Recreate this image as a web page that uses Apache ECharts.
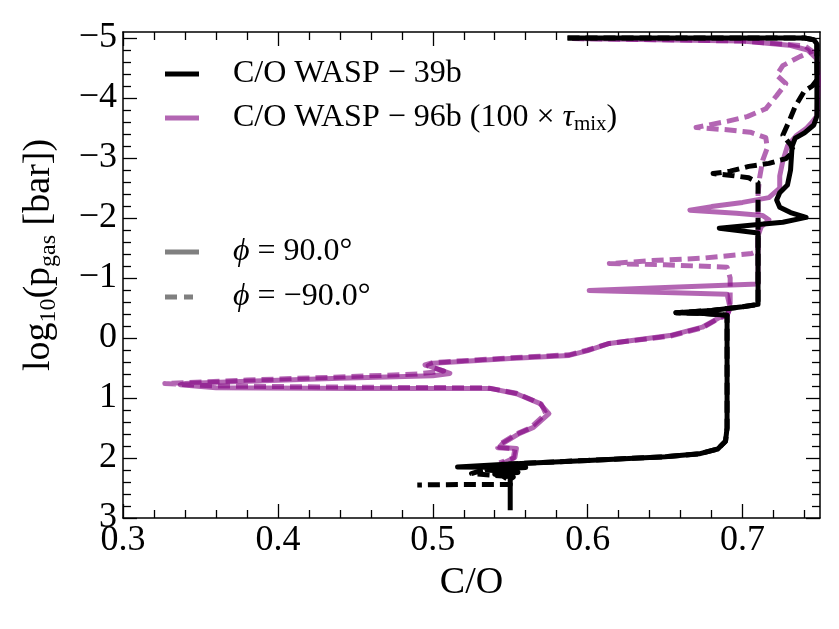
<!DOCTYPE html>
<html>
<head>
<meta charset="utf-8">
<script src="https://cdn.jsdelivr.net/npm/echarts@6/dist/echarts.min.js"></script>
<style>
  html, body { margin: 0; padding: 0; background: #fff; }
  #chart { width: 839px; height: 629px; }
</style>
</head>
<body>
<div id="chart"></div>
<script>
// C/O profiles: x = C/O, y = log10(p_gas [bar])
const w39EastCO = [0.587, 0.74, 0.746, 0.748, 0.748, 0.746, 0.74, 0.734, 0.732, 0.731, 0.729, 0.724, 0.722, 0.724, 0.731, 0.741, 0.726, 0.705, 0.685, 0.697, 0.71, 0.71, 0.70, 0.68, 0.657, 0.675, 0.69, 0.69, 0.689, 0.684, 0.672, 0.65, 0.6, 0.55, 0.516, 0.56, 0.535, 0.555, 0.54, 0.552, 0.55, 0.55]
const w39EastP  = [-5.0, -5.0, -4.97, -4.9, -3.7, -3.55, -3.42, -3.33, -3.2, -2.8, -2.55, -2.42, -2.3, -2.18, -2.09, -2.01, -1.93, -1.88, -1.83, -1.79, -1.75, -0.56, -0.52, -0.46, -0.42, -0.41, -0.38, 1.5, 1.72, 1.85, 1.93, 1.98, 2.04, 2.1, 2.15, 2.16, 2.2, 2.24, 2.27, 2.32, 2.35, 2.87]

const w39WestCO = [0.587, 0.74, 0.746, 0.748, 0.748, 0.745, 0.740, 0.734, 0.730, 0.726, 0.731, 0.733, 0.728, 0.717, 0.704, 0.692, 0.681, 0.693, 0.704, 0.71, 0.71, 0.70, 0.68, 0.657, 0.675, 0.69, 0.69, 0.689, 0.684, 0.672, 0.65, 0.6, 0.55, 0.53, 0.525, 0.545, 0.55, 0.55, 0.52, 0.49]
const w39WestP  = [-5.0, -5.0, -4.97, -4.9, -4.3, -4.2, -4.12, -3.86, -3.61, -3.38, -3.22, -3.11, -2.99, -2.91, -2.86, -2.78, -2.74, -2.71, -2.67, -2.59, -0.56, -0.52, -0.46, -0.42, -0.41, -0.38, 1.5, 1.72, 1.85, 1.93, 1.98, 2.04, 2.1, 2.22, 2.26, 2.3, 2.38, 2.44, 2.44, 2.45]

const w96EastCO = [0.59, 0.70, 0.73, 0.742, 0.748, 0.749, 0.748, 0.745, 0.741, 0.735, 0.729, 0.726, 0.724, 0.724, 0.717, 0.70, 0.68, 0.666, 0.696, 0.713, 0.717, 0.712, 0.71, 0.71, 0.65, 0.601, 0.65, 0.69, 0.692, 0.69, 0.685, 0.674, 0.653, 0.614, 0.6, 0.588, 0.55, 0.5, 0.497, 0.511, 0.5, 0.44, 0.38, 0.34, 0.337, 0.36, 0.45, 0.537, 0.554, 0.569, 0.575, 0.565, 0.556, 0.545, 0.543, 0.554, 0.553, 0.545, 0.548]
const w96EastP  = [-4.99, -4.95, -4.88, -4.8, -4.65, -4.3, -3.7, -3.6, -3.49, -3.38, -3.2, -2.95, -2.7, -2.5, -2.34, -2.26, -2.19, -2.13, -2.08, -2.04, -1.97, -1.85, -1.7, -0.9, -0.84, -0.79, -0.76, -0.73, -0.5, -0.38, -0.34, -0.18, -0.04, 0.09, 0.21, 0.29, 0.34, 0.42, 0.46, 0.59, 0.63, 0.67, 0.72, 0.76, 0.78, 0.83, 0.84, 0.84, 0.93, 1.09, 1.26, 1.49, 1.59, 1.76, 1.82, 1.84, 1.99, 2.09, 2.2]

const w96WestCO = [0.59, 0.70, 0.74, 0.745, 0.737, 0.726, 0.722, 0.728, 0.722, 0.715, 0.703, 0.69, 0.67, 0.69, 0.705, 0.715, 0.716, 0.713, 0.711, 0.71, 0.71, 0.706, 0.674, 0.642, 0.614, 0.65, 0.69, 0.692, 0.692, 0.69, 0.685, 0.674, 0.653, 0.614, 0.6, 0.588, 0.55, 0.5, 0.495, 0.507, 0.49, 0.44, 0.38, 0.327, 0.36, 0.45, 0.535, 0.554, 0.57, 0.573, 0.563, 0.554, 0.544, 0.542, 0.553, 0.552, 0.543]
const w96WestP  = [-4.99, -4.95, -4.87, -4.78, -4.69, -4.54, -4.38, -4.24, -4.04, -3.82, -3.69, -3.61, -3.51, -3.47, -3.43, -3.34, -3.17, -2.96, -2.67, -2.4, -1.45, -1.41, -1.33, -1.29, -1.24, -1.22, -1.18, -1.0, -0.5, -0.38, -0.33, -0.17, -0.03, 0.09, 0.2, 0.28, 0.33, 0.41, 0.45, 0.55, 0.6, 0.65, 0.7, 0.76, 0.8, 0.82, 0.83, 0.92, 1.1, 1.26, 1.5, 1.6, 1.76, 1.83, 1.85, 2.0, 2.08]

const xMajorTicks = [0.3, 0.4, 0.5, 0.6, 0.7]
const xMinorTicks = [0.32, 0.34, 0.36, 0.38, 0.42, 0.44, 0.46, 0.48, 0.52, 0.54, 0.56, 0.58, 0.62, 0.64, 0.66, 0.68, 0.72, 0.74]
const yMajorTicks = [-5, -4, -3, -2, -1, 0, 1, 2, 3]
const yMinorTicks = [-4.8, -4.6, -4.4, -4.2, -3.8, -3.6, -3.4, -3.2, -2.8, -2.6, -2.4, -2.2, -1.8, -1.6, -1.4, -1.2,
  -0.8, -0.6, -0.4, -0.2, 0.2, 0.4, 0.6, 0.8, 1.2, 1.4, 1.6, 1.8, 2.2, 2.4, 2.6, 2.8]

const NAME_39 = 'C/O WASP − 39b'
const NAME_96 = 'C/O WASP − 96b (100 × τmix)'
const NAME_EAST = 'ϕ = 90.0°'
const NAME_WEST = 'ϕ = −90.0°'

const BLACK = '#000000'
const PURPLE = 'rgba(128,0,128,0.6)'
const GREY = '#808080'
const FONT = 'Liberation Serif'

const zip = (xs, ys) => xs.map((x, i) => [x, ys[i]])

const chart = echarts.init(document.getElementById('chart'))

const tickLine = { color: '#000', width: 1.3 }
const frame = { show: true, onZero: false, lineStyle: { color: '#000', width: 1.5 } }
const noLine = { show: false, onZero: false }

// one axis per side for the major ticks, another for the minor ones
const makeX = (position, ticks, len, withLine, withLabels) => ({
  type: 'value', position, min: 0.3, max: 0.75,
  axisLine: withLine ? frame : noLine,
  axisTick: { show: true, inside: true, length: len, customValues: ticks, lineStyle: tickLine },
  axisLabel: withLabels
    ? { show: true, customValues: ticks, formatter: v => v.toFixed(1), fontSize: 36, color: '#000', margin: 5, fontFamily: FONT }
    : { show: false },
  splitLine: { show: false }
})

const makeY = (position, ticks, len, withLine, withLabels) => ({
  type: 'value', position, inverse: true, min: -5.1, max: 3,
  axisLine: withLine ? frame : noLine,
  axisTick: { show: true, inside: true, length: len, customValues: ticks, lineStyle: tickLine },
  axisLabel: withLabels
    ? { show: true, customValues: ticks, formatter: v => (v < 0 ? '−' + (-v) : String(v)), fontSize: 36, color: '#000', margin: 6, fontFamily: FONT }
    : { show: false },
  splitLine: { show: false }
})

const xBottom = makeX('bottom', xMajorTicks, 14, true, true)
xBottom.name = 'C/O'
xBottom.nameLocation = 'middle'
xBottom.nameGap = 46
xBottom.nameTextStyle = { fontSize: 38, color: '#000', fontFamily: FONT }

const yLeft = makeY('left', yMajorTicks, 14, true, true)
yLeft.name = 'log{s|10}(p{s|gas} [bar])'
yLeft.nameLocation = 'middle'
yLeft.nameGap = 62
yLeft.nameTextStyle = {
  fontSize: 38, color: '#000', fontFamily: FONT, lineHeight: 44, padding: [0, 0, 0, 40],
  rich: { s: { fontSize: 24, lineHeight: 24, verticalAlign: 'bottom', fontFamily: FONT, color: '#000' } }
}

const lineSeries = (name, co, p, color, dashed) => ({
  name, type: 'line', xAxisIndex: 0, yAxisIndex: 0,
  data: zip(co, p), symbol: 'none', showSymbol: false, clip: true,
  color,
  lineStyle: { color, width: 5, type: dashed ? [12, 6] : 'solid', join: 'round' }
})

const solidIcon = 'path://M0,0H34V5H0Z'
const dashIcon = 'path://M0,0H12V5H0Z M19,0H28V5H19Z M34,0V5'

const legendText = {
  fontSize: 32, color: '#000', fontFamily: FONT, lineHeight: 34, padding: [0, 0, 0, 29],
  rich: {
    i: { fontSize: 32, fontStyle: 'italic', fontFamily: FONT, color: '#000', lineHeight: 34 },
    s: { fontSize: 21, lineHeight: 21, verticalAlign: 'bottom', fontFamily: FONT, color: '#000' }
  }
}
const legendFmt = name => name.replace('τmix', '{i|τ}{s|mix}').replace('ϕ', '{i|ϕ}')

const option = {
  animation: false,
  backgroundColor: '#fff',
  textStyle: { fontFamily: FONT },
  grid: { left: 123, right: 19, top: 32, bottom: 111, containLabel: false },
  xAxis: [
    xBottom,
    makeX('top', xMajorTicks, 14, true, false),
    makeX('bottom', xMinorTicks, 8, false, false),
    makeX('top', xMinorTicks, 8, false, false)
  ],
  yAxis: [
    yLeft,
    makeY('right', yMajorTicks, 14, true, false),
    makeY('left', yMinorTicks, 8, false, false),
    makeY('right', yMinorTicks, 8, false, false)
  ],
  legend: [
    {
      left: 160, top: 52, orient: 'vertical', itemWidth: 34, itemHeight: 5, itemGap: 10,
      selectedMode: false, textStyle: legendText, formatter: legendFmt,
      data: [
        { name: NAME_39, icon: solidIcon, itemStyle: { color: BLACK } },
        { name: NAME_96, icon: solidIcon, itemStyle: { color: PURPLE } }
      ]
    },
    {
      left: 160, top: 230, orient: 'vertical', itemWidth: 34, itemHeight: 5, itemGap: 11,
      selectedMode: false, textStyle: legendText, formatter: legendFmt,
      data: [
        { name: NAME_EAST, icon: solidIcon, itemStyle: { color: GREY } },
        { name: NAME_WEST, icon: dashIcon, itemStyle: { color: GREY } }
      ]
    }
  ],
  series: [
    lineSeries(NAME_96, w96EastCO, w96EastP, PURPLE, false),
    lineSeries(NAME_96, w96WestCO, w96WestP, PURPLE, true),
    lineSeries(NAME_39, w39EastCO, w39EastP, BLACK, false),
    lineSeries(NAME_39, w39WestCO, w39WestP, BLACK, true),
    // legend-only entries for the two longitudes
    { name: NAME_EAST, type: 'line', data: [], color: GREY, symbol: 'none' },
    { name: NAME_WEST, type: 'line', data: [], color: GREY, symbol: 'none', lineStyle: { type: 'dashed' } }
  ]
}

chart.setOption(option)
</script>
</body>
</html>
